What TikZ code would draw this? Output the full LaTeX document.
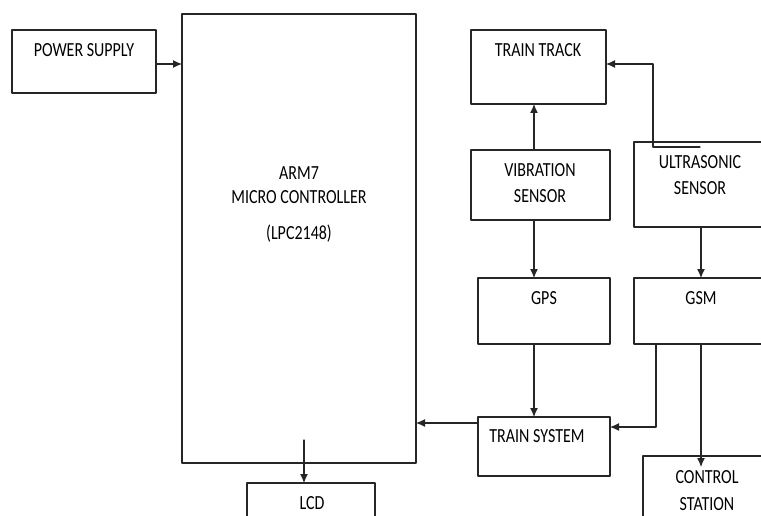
\documentclass[tikz,border=0pt]{standalone}
\usepackage{fontspec}
\setmainfont[FakeStretch=0.8]{Carlito}
\usetikzlibrary{arrows.meta}

\tikzset{
  blk/.style={draw=black!85,line width=1.1pt,inner sep=0pt,outer sep=0pt},
  lbl/.style={anchor=base,inner sep=0pt,text=black,font=\fontsize{20}{22}\selectfont},
  arr/.style={draw=black!85,line width=1.1pt,-{Latex[length=9pt,width=8pt]}}
}

\begin{document}
\begin{tikzpicture}[x=1pt,y=-1pt,line cap=round,line join=round]
  \useasboundingbox (0,0) rectangle (761,516);
  \clip (0,0) rectangle (761,516);
  % blocks
  \node[blk,minimum width=144,minimum height=63] (ps) at (84,61.5) {};
  \node[blk,minimum width=234,minimum height=449] (mcu) at (299,238.5) {};
  \node[blk,minimum width=135,minimum height=74] (track) at (538.5,67) {};
  \node[blk,minimum width=139,minimum height=70] (vib) at (540.5,185) {};
  \node[blk,minimum width=134,minimum height=85] (ultra) at (701,184.5) {};
  \node[blk,minimum width=132,minimum height=66] (gps) at (544,311) {};
  \node[blk,minimum width=134,minimum height=66] (gsm) at (701,311) {};
  \node[blk,minimum width=132,minimum height=59] (tsys) at (544,446.5) {};
  \node[blk,minimum width=128,minimum height=80] (ctrl) at (707,496) {};
  \node[blk,minimum width=128,minimum height=60] (lcd) at (311,513) {};
  % texts
  \node[lbl] (psT) at (84,57) {POWER SUPPLY};
  \node[lbl] (mcuA) at (299,179) {ARM7};
  \node[lbl] (mcuB) at (299,204) {MICRO CONTROLLER};
  \node[lbl] (mcuC) at (299,240) {(LPC2148)};
  \node[lbl] (trackT) at (538,57) {TRAIN TRACK};
  \node[lbl] (vibA) at (540,177) {VIBRATION};
  \node[lbl] (vibB) at (540,203) {SENSOR};
  \node[lbl] (ultraA) at (700,169) {ULTRASONIC};
  \node[lbl] (ultraB) at (700,195) {SENSOR};
  \node[lbl] (gpsT) at (544,304) {GPS};
  \node[lbl] (gsmT) at (701,304) {GSM};
  \node[lbl] (tsysT) at (537,442) {TRAIN SYSTEM};
  \node[lbl] (ctrlA) at (707,483) {CONTROL};
  \node[lbl] (ctrlB) at (707,510) {STATION};
  \node[lbl] (lcdT) at (312,509) {LCD};
  % joints
  \coordinate (psOut) at (156,64);
  \coordinate (usStart) at (700,147);
  \coordinate (usBend) at (653,64);
  \coordinate (tsysOut) at (478,423);
  \coordinate (gsmOut) at (656,344);
  \coordinate (gsmIn) at (610,427);
  \coordinate (lcdFeed) at (304,440);
  \coordinate (ctrlTip) at (701,467);
  % connectors
  \draw[arr] (psOut) -- (psOut -| mcu.west);
  \draw[arr] ([xshift=-6.5pt]vib.north) -- ([xshift=-6.5pt]vib.north |- track.south);
  \draw[arr] (usStart) -| (usBend) -- (usBend -| track.east);
  \draw[arr] ([xshift=-6.5pt]vib.south) -- ([xshift=-6.5pt]vib.south |- gps.north);
  \draw[arr] (ultra.south) -- (ultra.south |- gsm.north);
  \draw[arr] ([xshift=-10pt]gps.south) -- ([xshift=-10pt]gps.south |- tsys.north);
  \draw[arr] (tsysOut) -- (tsysOut -| mcu.east);
  \draw[arr] (gsmOut) |- (gsmIn);
  \draw[arr] (gsm.south) -- (ctrlTip);
  \draw[arr] (lcdFeed) -- (lcdFeed |- lcd.north);
\end{tikzpicture}
\end{document}
